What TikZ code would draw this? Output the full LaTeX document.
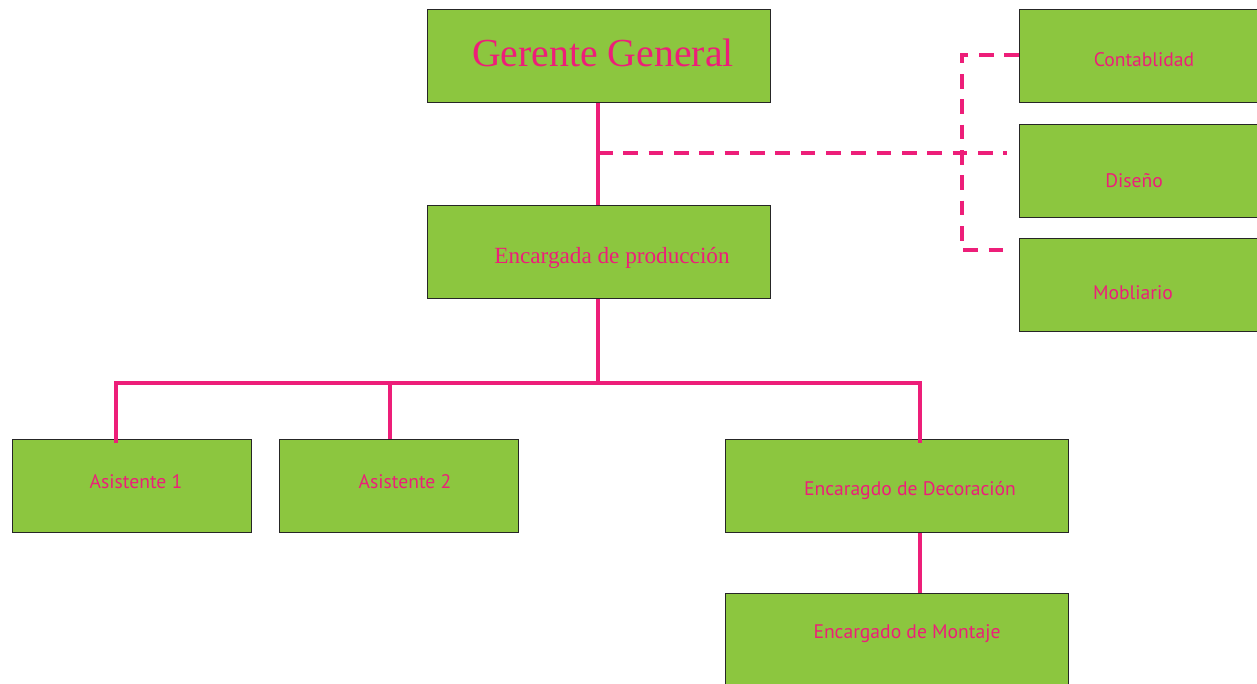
\documentclass[tikz,border=0pt]{standalone}
\usepackage{fontspec}
\setmainfont{Liberation Serif}
\newfontfamily\labfont{PT Sans}
\definecolor{boxgreen}{HTML}{8CC63F}
\definecolor{pk}{HTML}{ED1E79}
\begin{document}
\begin{tikzpicture}[x=0.75pt,y=-0.75pt,
  box/.style={draw=black!85,line width=1pt,fill=boxgreen,inner sep=0pt,anchor=north west},
  wbox/.style={box,minimum width=257.25pt,minimum height=69.75pt},
  nbox/.style={box,minimum width=179.25pt,minimum height=69.75pt},
  rbox/.style={box,minimum width=240pt,minimum height=69.75pt},
  pkline/.style={draw=pk,line width=2.5pt},
  pkdash/.style={draw=pk,line width=2.5pt,dash pattern=on 11pt off 8pt},
  lab/.style={text=pk,font=\labfont\fontsize{14.7}{17}\selectfont,inner sep=0pt},
  serif/.style={text=pk,inner sep=0pt}]
\useasboundingbox[fill=white] (0,0) rectangle (1257,683);
% boxes
\node[wbox] (gg) at (427,9) {};
\node[wbox] (ep) at (427,205) {};
\node[rbox] (cont) at (1019,9) {};
\node[rbox] (dis) at (1019,124) {};
\node[rbox] (mob) at (1019,238) {};
\node[nbox] (a1) at (12,439) {};
\node[nbox] (a2) at (279,439) {};
\node[wbox] (dec) at (725,439) {};
\node[wbox] (mon) at (725,593) {};
% texts
\node[serif,font=\fontsize{29.8}{32}\selectfont] (tgg) at (603,53) {Gerente General};
\node[serif,font=\fontsize{17.4}{20}\selectfont] (tep) at (612,258) {Encargada de producción};
\node[lab] (tcont) at (1144,60) {Contablidad};
\node[lab] (tdis) at (1134,181) {Diseño};
\node[lab] (tmob) at (1133,293) {Mobliario};
\node[lab] (ta1) at (136,482) {Asistente 1};
\node[lab] (ta2) at (405,482) {Asistente 2};
\node[lab] (tdec) at (910,491) {Encaragdo de Decoración};
\node[lab] (tmon) at (907,634) {Encargado de Montaje};
% junctions
\coordinate (top) at (598,102);
\coordinate (dj) at (598,153);
\coordinate (dv1) at (962,55);
\coordinate (dv2) at (962,250);
\coordinate (j) at (598,383);
\coordinate (j1) at (116,383);
\coordinate (j2) at (390,383);
\coordinate (j3) at (920,383);
% solid connectors
\draw[pkline] (gg.south -| top) -- (ep.north -| top);
\draw[pkline] (ep.south -| j) -- (j);
\draw[pkline,line join=miter] ([yshift=-3pt]a1.north -| j1) -- (j1) -- (j3) -- ([yshift=-3pt]dec.north -| j3);
\draw[pkline] (j2) -- (a2.north -| j2);
\draw[pkline] (dec.south -| j3) -- (mon.north -| j3);
% dashed connectors
\draw[pkdash] (dj) -- ([xshift=-9pt]dis.west |- dj);
\draw[pkdash] (cont.west |- dv1) -- (dv1) -- (dv2) -- ([xshift=-9pt]mob.west |- dv2);
\end{tikzpicture}
\end{document}
